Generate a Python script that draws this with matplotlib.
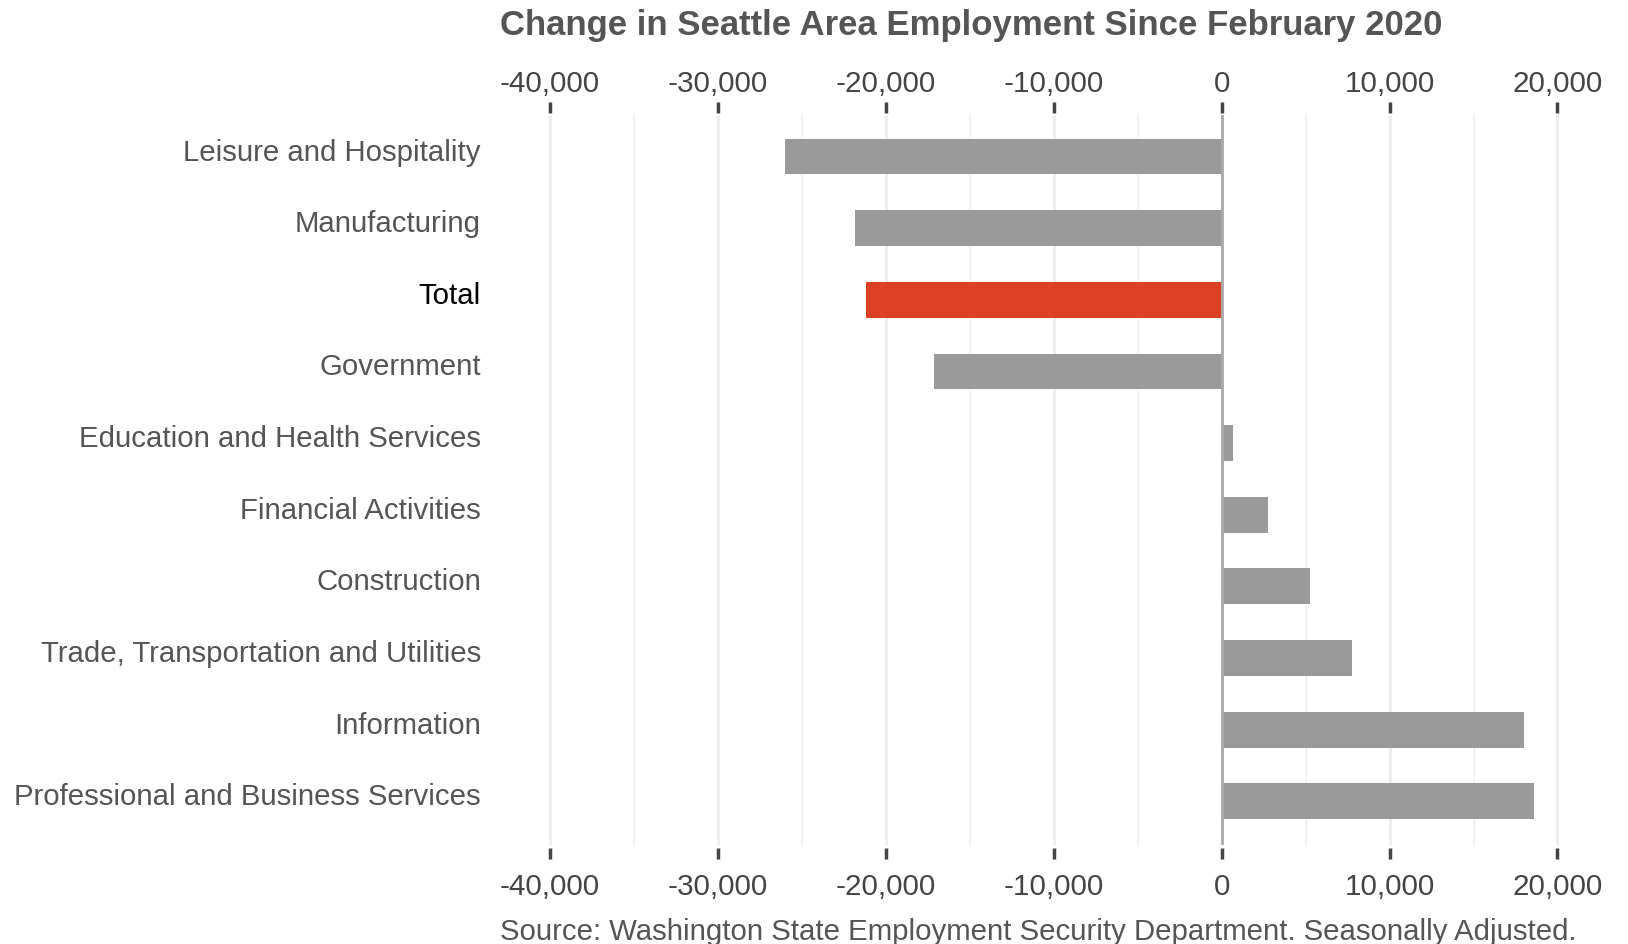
import matplotlib
matplotlib.use("Agg")
import matplotlib.pyplot as plt
from matplotlib.ticker import FuncFormatter, MultipleLocator
from matplotlib.transforms import ScaledTranslation

categories = ["Leisure and Hospitality", "Manufacturing", "Total", "Government",
              "Education and Health Services", "Financial Activities", "Construction",
              "Trade, Transportation and Utilities", "Information",
              "Professional and Business Services"]
values = [-26000, -21800, -21200, -17100, 700, 2750, 5250, 7750, 17980, 18620]
highlight = "Total"
xticks = [-40000, -30000, -20000, -10000, 0, 10000, 20000]
title = "Change in Seattle Area Employment Since February 2020"
source = "Source: Washington State Employment Security Department. Seasonally Adjusted."

plt.rcParams['font.family'] = ['Liberation Sans', 'DejaVu Sans']

W, H = 1628, 944
fig = plt.figure(figsize=(W / 100, H / 100), dpi=100)
left, right, top, bottom = 533, 1581, 115, 845
ax = fig.add_axes([left / W, 1 - bottom / H, (right - left) / W, (bottom - top) / H])

colors = ["#dc4126" if c == highlight else "#9a9a9a" for c in categories]
y = list(range(len(categories)))
ax.barh(y, values, height=0.5, color=colors, zorder=3)
ax.set_yticks(y)
ax.set_yticklabels(categories)
ax.set_ylim(9.61, -0.58)
ax.set_xlim(-41000, 21400)

fmt = FuncFormatter(lambda v, p: f"{int(v):,}")
ax.set_xticks(xticks)
ax.xaxis.set_minor_locator(MultipleLocator(5000))
ax.xaxis.set_major_formatter(fmt)
ax.tick_params(axis='x', which='major', top=False, bottom=True, labeltop=False, labelbottom=True,
               length=8, width=2.5, color="#444444", labelsize=21.3, labelcolor="#444444", pad=10.5)
ax.tick_params(axis='x', which='minor', top=False, bottom=False, length=0)
ax.tick_params(axis='y', length=0, labelsize=21.2, pad=37.5)
off = ScaledTranslation(0, 7 / 100, fig.dpi_scale_trans)
for lab in ax.get_yticklabels():
    lab.set_color("#000000" if lab.get_text() == highlight else "#555555")
    lab.set_transform(lab.get_transform() + off)

sec = ax.secondary_xaxis('top')
sec.set_xticks(xticks)
sec.xaxis.set_major_formatter(fmt)
sec.tick_params(axis='x', which='major', length=8, width=2.5, color="#444444",
                labelsize=21.3, labelcolor="#444444", pad=3)
sec.tick_params(axis='x', which='minor', length=0)
for s in sec.spines.values():
    s.set_visible(False)
sec.spines['top'].set_position(('outward', 1.5))

ax.grid(axis='x', which='major', color="#ececec", linewidth=2, zorder=0)
ax.grid(axis='x', which='minor', color="#f3f3f3", linewidth=1.5, zorder=0)
ax.axvline(0, color="#aaaaaa", linewidth=2, zorder=4)

for s in ['left', 'right', 'top', 'bottom']:
    ax.spines[s].set_visible(False)
ax.spines['bottom'].set_position(('outward', 2))

fig.text(500 / W, 1 - 26 / H, title, ha='left', va='center', fontsize=25,
         fontweight='bold', color="#555555")
fig.text(500 / W, 1 - 932 / H, source, ha='left', va='center', fontsize=21.2, color="#555555")

fig.savefig("out.png", dpi=100)
